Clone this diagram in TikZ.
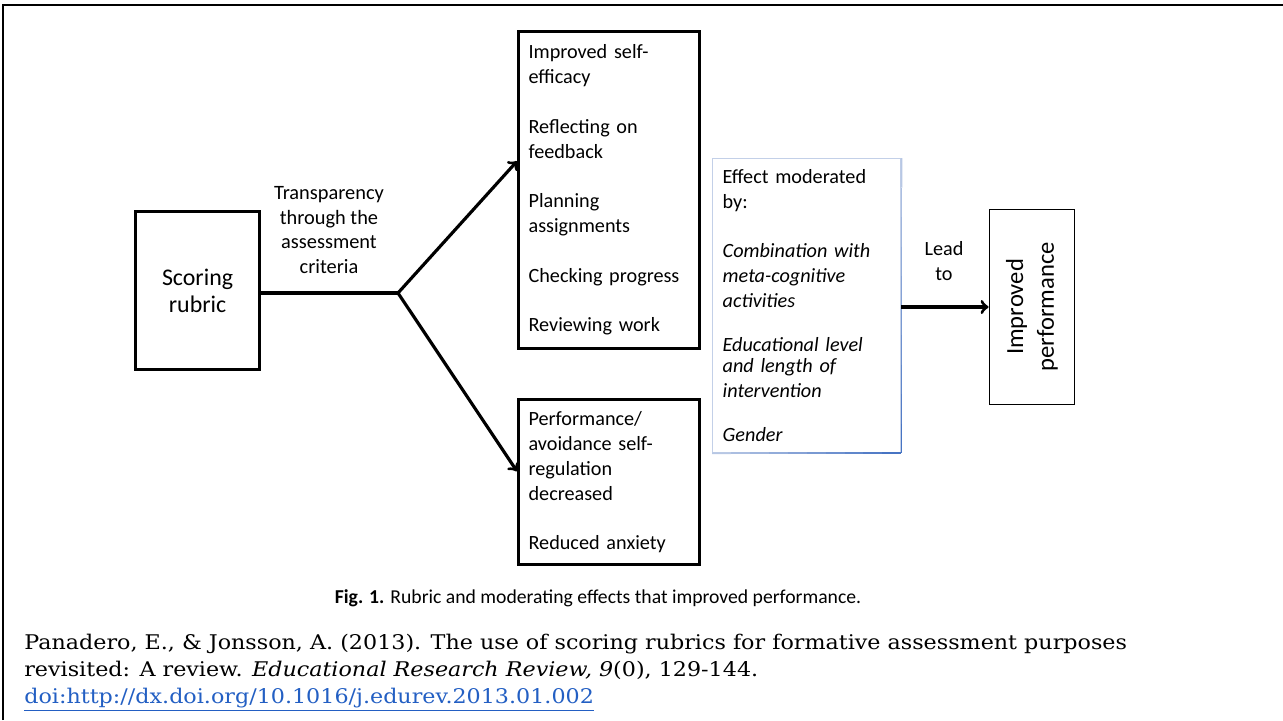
\documentclass[tikz,border=0pt]{standalone}
\usepackage{fontspec}
\setmainfont{Carlito}
\newfontfamily\citefont[FakeStretch=1.1]{DejaVu Serif}
\usepackage{xcolor}
\usetikzlibrary{
    arrows,
    calc,
    positioning,
    shapes
}

\definecolor{modblue}{RGB}{70,115,195}
\definecolor{modpale}{RGB}{195,208,232}
\definecolor{linkblue}{RGB}{35,95,195}

\tikzset{
    listbox/.style={draw, line width=1.8pt, anchor=north west, align=left,
        inner xsep=0.2cm, inner ysep=0pt,
        font=\fontsize{11.5}{14.2}\selectfont},
    flow/.style={line width=1.8pt, ->, >=to}
}

\begin{document}
\begin{tikzpicture}[x=0.02cm, y=-0.02cm]
    \useasboundingbox (0, 0) rectangle (1283, 720);
    % frame
    \draw[line width=1.6pt] (3, 720) -- (3, 5) -- (1283, 5);

    \node[listbox, align=center, text width=2.08cm, minimum height=3.16cm,
        font=\fontsize{13.6}{15.5}\selectfont] (rubric) at (134, 210) {Scoring\\rubric};
    \node[listbox, text width=3.22cm, minimum height=6.34cm] (gains) at (517, 30)
        {Improved self-\\efficacy\\[14pt]
         Reflecting on\\feedback\\[14pt]
         Planning\\assignments\\[14pt]
         Checking progress\\[14pt]
         Reviewing work};
    \node[listbox, text width=3.22cm, minimum height=3.3cm] (losses) at (517, 398)
        {Performance/\\avoidance self-\\regulation\\decreased\\[14pt]
         Reduced anxiety};
    \node[listbox, draw=modpale, line width=0.8pt, text width=3.36cm, minimum height=5.88cm] (moder) at (712, 158)
        {Effect moderated\\by:\\[14pt]
         \itshape Combination with\\\itshape meta-cognitive\\\itshape activities\\[13pt]
         {\fontsize{11.5}{12}\selectfont\itshape Educational level\\and length of\\intervention}\\[11pt]
         \itshape Gender};
    % bluish edge getting darker towards the lower right corner
    \foreach \f [evaluate=\f as \c using int(100*\f)] in {0.1,0.2,...,1.0}
        \draw[modblue!\c!modpale, line width=1pt]
            ($(moder.south west)!\f-0.1!(moder.south east)$) -- ($(moder.south west)!\f!(moder.south east)$)
            ($(moder.north east)!\f-0.1!(moder.south east)$) -- ($(moder.north east)!\f!(moder.south east)$);
    \node[draw, line width=1.1pt, rotate=90, align=center, minimum width=3.9cm, minimum height=1.7cm,
        font=\fontsize{14}{17.5}\selectfont] (perf) at (1032, 307) {Improved\\performance};

    \coordinate (split) at (398, 293);
    \draw[line width=1.8pt] (rubric.east |- split) -- (split);
    \draw[flow] (split) -- ($(gains.north west)!0.41!(gains.south west)$);
    \draw[flow] (split) -- ($(losses.north west)!0.436!(losses.south west)$);
    \draw[flow] (moder.east |- perf.north) -- (perf.north);

    \node[align=center, font=\fontsize{11.6}{14}\selectfont] (transp) at (329, 230)
        {Transparency\\through the\\assessment\\criteria};
    \node[align=center, font=\fontsize{11.5}{14}\selectfont] (lead) at (944, 261) {Lead\\to};

    \node[font=\fontsize{11.2}{13}\selectfont] (caption) at (598, 598)
        {\textbf{Fig. 1.} Rubric and moderating effects that improved performance.};
    \node[anchor=north west, align=left, inner sep=0pt, font=\citefont\fontsize{11.5}{15.2}\selectfont] (cite) at (24, 634)
        {Panadero, E., \& Jonsson, A. (2013). The use of scoring rubrics for formative assessment purposes\\
         revisited: A review. \textit{Educational Research Review, 9}(0), 129-144.\\
         \textcolor{linkblue}{\underline{doi:http://dx.doi.org/10.1016/j.edurev.2013.01.002}}};
\end{tikzpicture}
\end{document}
